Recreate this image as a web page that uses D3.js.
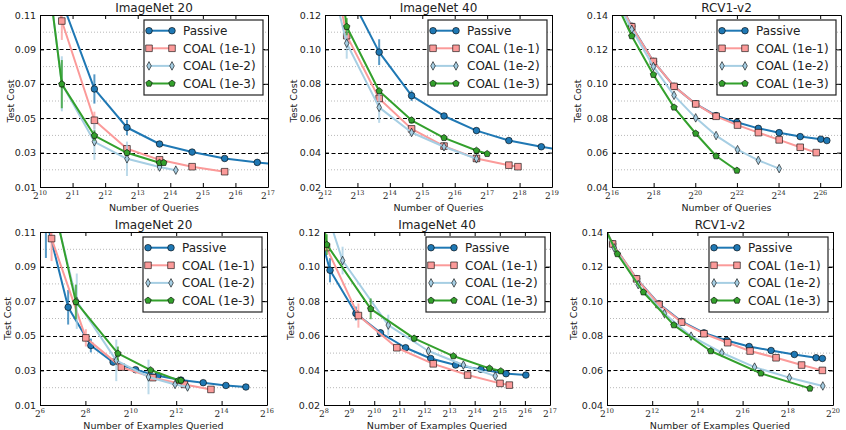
<!DOCTYPE html>
<html>
<head>
<meta charset="utf-8">
<script src="https://cdn.jsdelivr.net/npm/d3@7"></script>
<style>
body { margin: 0; background: #fff; }
svg { font-family: "DejaVu Sans", sans-serif; }
</style>
</head>
<body>
<svg id="chart" width="846" height="430"></svg>
<script>
/* DATA: each point is [log2(x), test cost, error half-width] */
const seriesNames = ["Passive", "COAL (1e-1)", "COAL (1e-2)", "COAL (1e-3)"];

// ImageNet 20, number of queries
const q20Passive = [[10.67,0.118,0],[11.67,0.067,0.0085],[12.67,0.0446,0.0045],[13.67,0.035,0.001],[14.67,0.0303,0.0005],[15.67,0.0266,0],[16.67,0.0243,0],[17.67,0.0225,0]];
const q20Coal1 = [[9.67,0.2,0],[10.67,0.1065,0.011],[11.67,0.0488,0.005],[12.67,0.0322,0.002],[13.67,0.0258,0.001],[14.67,0.0218,0.001],[15.67,0.0189,0]];
const q20Coal2 = [[9.67,0.22,0],[10.67,0.07,0.016],[11.67,0.0363,0.0105],[12.67,0.0264,0.01],[13.67,0.0216,0.002],[14.17,0.0198,0.0015]];
const q20Coal3 = [[9.67,0.22,0],[10.67,0.0698,0.014],[11.67,0.0399,0.003],[12.67,0.0299,0.001],[13.67,0.0241,0.001],[13.8,0.0241,0]];

// ImageNet 40, number of queries
const q40Passive = [[12.67,0.135,0],[13.67,0.0984,0.0075],[14.67,0.0731,0.003],[15.67,0.0613,0.0015],[16.67,0.0528,0.001],[17.67,0.047,0],[18.67,0.0434,0],[19.67,0.0404,0]];
const q40Coal1 = [[11.67,0.2,0],[12.67,0.108,0],[13.67,0.0715,0.002],[14.67,0.0538,0.001],[15.67,0.0438,0.001],[16.67,0.0366,0],[17.67,0.0327,0],[17.95,0.0318,0]];
const q40Coal2 = [[11.67,0.18,0],[12.67,0.1036,0.009],[13.67,0.0663,0.009],[14.67,0.0517,0.002],[15.67,0.0434,0.0015],[16.67,0.0364,0.001]];
const q40Coal3 = [[11.67,0.25,0],[12.67,0.1132,0.005],[13.67,0.0758,0.001],[14.67,0.0588,0.002],[15.67,0.0486,0.001],[16.67,0.0412,0.001],[17.0,0.0393,0]];

// RCV1-v2, number of queries
const qRcvPassive = [[16,0.155,0],[16.95,0.1335,0],[17.99,0.113,0],[18.98,0.0985,0],[20.02,0.0883,0],[21,0.0815,0],[22,0.0776,0],[23.03,0.0741,0],[24.03,0.0716,0],[25.04,0.0693,0],[26.03,0.0678,0],[26.32,0.067,0]];
const qRcvCoal1 = [[16,0.155,0],[16.95,0.1332,0],[17.99,0.113,0],[18.98,0.0985,0],[20.02,0.0883,0],[21,0.0811,0],[22.03,0.076,0],[23.03,0.0716,0],[24.03,0.0674,0],[25.04,0.0631,0],[25.81,0.06,0]];
const qRcvCoal2 = [[16,0.153,0],[16.95,0.1317,0],[17.99,0.11,0],[18.98,0.0933,0],[20.02,0.0802,0],[21,0.0699,0],[22.03,0.0617,0],[23.03,0.0555,0],[24.03,0.0507,0]];
const qRcvCoal3 = [[16,0.152,0],[16.95,0.1278,0],[17.99,0.1053,0],[18.98,0.0863,0],[20.02,0.0711,0],[21,0.058,0],[22,0.0496,0]];

// ImageNet 20, number of examples queried
const e20Passive = [[6.26,0.118,0.023],[7.24,0.0665,0.01],[8.24,0.0444,0.004],[9.22,0.0348,0.001],[10.21,0.0304,0.001],[11.19,0.0269,0],[12.21,0.0244,0],[13.19,0.0229,0],[14.19,0.0213,0],[15.07,0.0204,0]];
const e20Coal1 = [[5.5,0.2,0],[6.51,0.1062,0.013],[8.02,0.0488,0.005],[9.58,0.0319,0.001],[10.97,0.0258,0.001],[12.36,0.0219,0.001],[13.53,0.019,0]];
const e20Coal2 = [[6.6,0.125,0],[7.62,0.07,0.016],[9.36,0.0358,0.012],[10.78,0.0262,0.01],[11.95,0.0219,0.002],[12.5,0.0204,0.002]];
const e20Coal3 = [[6.6,0.126,0],[7.58,0.0696,0.01],[9.43,0.0398,0.004],[10.87,0.0302,0.001],[12.11,0.0242,0.001],[12.21,0.0242,0]];

// ImageNet 40, number of examples queried
const e40Passive = [[7.24,0.15,0],[8.24,0.0979,0.007],[9.27,0.0729,0.004],[10.25,0.0617,0.002],[11.25,0.0531,0],[12.25,0.0469,0],[13.24,0.0431,0],[14.25,0.0406,0],[15.25,0.0381,0],[16.04,0.0373,0]];
const e40Coal1 = [[7.1,0.16,0],[8.1,0.111,0],[9.37,0.0717,0.007],[10.9,0.0531,0],[12.35,0.0438,0],[13.72,0.0373,0],[15.01,0.0325,0],[15.38,0.0315,0]];
const e40Coal2 = [[7.2,0.172,0],[8.74,0.1035,0.008],[10.56,0.0662,0.006],[12.16,0.0512,0.002],[13.55,0.0431,0.001],[14.82,0.0367,0.001]];
const e40Coal3 = [[7.0,0.23,0],[8.11,0.1127,0.006],[9.86,0.0756,0.006],[11.59,0.0585,0.002],[13.15,0.0483,0.001],[14.59,0.0412,0.001],[15.04,0.0396,0]];

// RCV1-v2, number of examples queried
const eRcvPassive = [[9.3,0.159,0],[10.25,0.1331,0],[11.31,0.113,0],[12.3,0.0985,0],[13.3,0.0883,0],[14.29,0.0817,0],[15.3,0.0773,0],[16.29,0.0738,0],[17.26,0.0715,0],[18.29,0.0692,0],[19.25,0.0673,0],[19.53,0.0669,0]];
const eRcvCoal1 = [[9.3,0.159,0],[10.25,0.1331,0],[11.31,0.1129,0],[12.3,0.0981,0],[13.3,0.0879,0],[14.29,0.0812,0],[15.34,0.076,0],[16.33,0.0712,0],[17.48,0.0673,0],[18.61,0.0631,0],[19.53,0.06,0]];
const eRcvCoal2 = [[9.3,0.157,0],[10.32,0.1308,0],[11.38,0.1096,0],[12.54,0.0929,0],[13.72,0.0798,0],[15.08,0.0702,0],[16.53,0.0619,0],[18.07,0.0558,0],[19.55,0.051,0]];
const eRcvCoal3 = [[9.4,0.156,0],[10.46,0.1273,0],[11.61,0.1052,0],[12.96,0.0862,0],[14.59,0.0712,0],[16.81,0.0583,0],[18.98,0.0496,0]];

// tick labels (x as powers of two)
const q20XTicks = [10,11,12,13,14,15,16,17];
const q40XTicks = [12,13,14,15,16,17,18,19];
const qRcvXTicks = [16,18,20,22,24,26];
const e20XTicks = [6,8,10,12,14,16];
const e40XTicks = [8,9,10,11,12,13,14,15,16,17];
const eRcvXTicks = [10,12,14,16,18,20];
const in20YTicks = [0.01,0.03,0.05,0.07,0.09,0.11];
const in40YTicks = [0.02,0.04,0.06,0.08,0.10,0.12];
const rcvYTicks = [0.04,0.06,0.08,0.10,0.12,0.14];

/* STYLE */
const colors = ["#1f78b4", "#fb9a99", "#a6cee3", "#33a02c"];
const markerTypes = ["circle", "square", "diamond", "pentagon"];

function markerPath(type) {
	if (type === "circle") return d3.symbol(d3.symbolCircle, Math.PI * 3.3 * 3.3)();
	if (type === "square") return "M-3.3,-3.3H3.3V3.3H-3.3Z";
	if (type === "diamond") return "M0,-4.3L2.3,0L0,4.3L-2.3,0Z";
	let pts = d3.range(5).map(function(i) {
		let a = -Math.PI / 2 + i * 2 * Math.PI / 5;
		return [3.4 * Math.cos(a), 3.4 * Math.sin(a)];
	});
	return "M" + pts.join("L") + "Z";
}

const svg = d3.select("#chart");

//panel layouts
const panels = [
	{id: "p1", title: "ImageNet 20", xlabel: "Number of Queries", left: 40, right: 268, top: 15, bottom: 187,
	 xDomain: [10, 17], xTicks: q20XTicks, yDomain: [0.01, 0.11], yTicks: in20YTicks, ylabelX: 11,
	 series: [q20Passive, q20Coal1, q20Coal2, q20Coal3]},
	{id: "p2", title: "ImageNet 40", xlabel: "Number of Queries", left: 325, right: 552, top: 15, bottom: 187,
	 xDomain: [12, 19], xTicks: q40XTicks, yDomain: [0.02, 0.12], yTicks: in40YTicks, ylabelX: 294,
	 series: [q40Passive, q40Coal1, q40Coal2, q40Coal3]},
	{id: "p3", title: "RCV1-v2", xlabel: "Number of Queries", left: 612, right: 841, top: 15, bottom: 187,
	 xDomain: [16, 27], xTicks: qRcvXTicks, yDomain: [0.04, 0.14], yTicks: rcvYTicks, ylabelX: 578,
	 series: [qRcvPassive, qRcvCoal1, qRcvCoal2, qRcvCoal3]},
	{id: "p4", title: "ImageNet 20", xlabel: "Number of Examples Queried", left: 40, right: 267, top: 232, bottom: 405,
	 xDomain: [6, 16], xTicks: e20XTicks, yDomain: [0.01, 0.11], yTicks: in20YTicks, ylabelX: 8,
	 series: [e20Passive, e20Coal1, e20Coal2, e20Coal3]},
	{id: "p5", title: "ImageNet 40", xlabel: "Number of Examples Queried", left: 324, right: 550, top: 232, bottom: 405,
	 xDomain: [8, 17], xTicks: e40XTicks, yDomain: [0.02, 0.12], yTicks: in40YTicks, ylabelX: 291,
	 series: [e40Passive, e40Coal1, e40Coal2, e40Coal3]},
	{id: "p6", title: "RCV1-v2", xlabel: "Number of Examples Queried", left: 607, right: 833, top: 232, bottom: 405,
	 xDomain: [10, 20], xTicks: eRcvXTicks, yDomain: [0.04, 0.14], yTicks: rcvYTicks, ylabelX: 574,
	 series: [eRcvPassive, eRcvCoal1, eRcvCoal2, eRcvCoal3]}
];

function drawPanel(p) {
	let x = d3.scaleLog().base(2).domain([Math.pow(2, p.xDomain[0]), Math.pow(2, p.xDomain[1])]).range([p.left, p.right]);
	let y = d3.scaleLinear().domain(p.yDomain).range([p.bottom, p.top]);
	let g = svg.append("g").attr("class", "panel");

	svg.append("clipPath").attr("id", "clip-" + p.id)
		.append("rect")
		.attr("x", p.left).attr("y", p.top)
		.attr("width", p.right - p.left).attr("height", p.bottom - p.top);

	//dotted minor grid between labelled ticks
	let minor = p.yTicks.slice(0, -1).map(function(v, i) { return (v + p.yTicks[i + 1]) / 2; });
	g.selectAll(".minor").data(minor).enter().append("line")
		.attr("x1", p.left).attr("x2", p.right)
		.attr("y1", function(d) { return y(d); }).attr("y2", function(d) { return y(d); })
		.style("stroke", "#b8b8b8").style("stroke-width", 1).style("stroke-dasharray", "1,2");

	//dashed major grid
	g.selectAll(".major").data(p.yTicks.slice(1, -1)).enter().append("line")
		.attr("x1", p.left).attr("x2", p.right)
		.attr("y1", function(d) { return Math.round(y(d)) + 0.5; }).attr("y2", function(d) { return Math.round(y(d)) + 0.5; })
		.style("stroke", "#000").style("stroke-width", 1).style("stroke-dasharray", "4,2.5");

	let plot = g.append("g").attr("clip-path", "url(#clip-" + p.id + ")");
	let line = d3.line()
		.x(function(d) { return x(Math.pow(2, d[0])); })
		.y(function(d) { return y(d[1]); });

	p.series.forEach(function(data, i) {
		let s = plot.append("g");
		//error bars
		s.selectAll(".err").data(data.filter(function(d) { return d[2] > 0; })).enter().append("line")
			.attr("x1", function(d) { return x(Math.pow(2, d[0])); })
			.attr("x2", function(d) { return x(Math.pow(2, d[0])); })
			.attr("y1", function(d) { return y(d[1] - d[2]); })
			.attr("y2", function(d) { return y(d[1] + d[2]); })
			.style("stroke", colors[i]).style("stroke-width", 2).style("opacity", 0.75);
		s.append("path").datum(data)
			.attr("d", line)
			.style("fill", "none").style("stroke", colors[i]).style("stroke-width", 2)
			.style("stroke-linejoin", "round");
		s.selectAll(".mk").data(data).enter().append("path")
			.attr("d", markerPath(markerTypes[i]))
			.attr("transform", function(d) { return "translate(" + x(Math.pow(2, d[0])) + "," + y(d[1]) + ")"; })
			.style("fill", colors[i]).style("stroke", "#000").style("stroke-width", 0.6);
	});

	//axes with inward ticks on all sides
	let xTickVals = p.xTicks.map(function(e) { return Math.pow(2, e); });
	let axes = [
		{axis: d3.axisLeft(y).tickValues(p.yTicks).tickFormat(d3.format(".2f")).tickPadding(4), t: "translate(" + p.left + ",0)"},
		{axis: d3.axisRight(y).tickValues(p.yTicks).tickFormat(function() { return ""; }), t: "translate(" + p.right + ",0)"},
		{axis: d3.axisBottom(x).tickValues(xTickVals).tickFormat(function() { return ""; }), t: "translate(0," + p.bottom + ")"},
		{axis: d3.axisTop(x).tickValues(xTickVals).tickFormat(function() { return ""; }), t: "translate(0," + p.top + ")"}
	];
	axes.forEach(function(a) {
		g.append("g").attr("transform", a.t)
			.call(a.axis.tickSizeInner(-4).tickSizeOuter(0))
			.attr("font-family", "DejaVu Sans").attr("font-size", 9.5)
			.call(function(ax) {
				ax.select(".domain").style("stroke", "#000").style("stroke-width", 1);
				ax.selectAll(".tick line").style("stroke", "#000");
				ax.selectAll(".tick text").style("fill", "#222");
			});
	});

	//x tick labels as powers of two
	let xl = g.selectAll(".xlab").data(p.xTicks).enter().append("text")
		.attr("x", function(d) { return x(Math.pow(2, d)); })
		.attr("y", p.bottom + 12)
		.attr("text-anchor", "middle")
		.style("font-family", "DejaVu Serif, serif")
		.style("fill", "#222");
	xl.append("tspan").style("font-size", "9px").text("2");
	xl.append("tspan").attr("dy", -4.5).style("font-size", "6.5px").text(function(d) { return d; });

	//title and axis labels
	g.append("text")
		.attr("x", (p.left + p.right) / 2).attr("y", p.top - 3)
		.attr("text-anchor", "middle")
		.style("font-size", "12px").style("fill", "#222")
		.text(p.title);
	g.append("text")
		.attr("x", (p.left + p.right) / 2).attr("y", p.bottom + 24)
		.attr("text-anchor", "middle")
		.style("font-size", "9.5px").style("fill", "#222")
		.text(p.xlabel);
	g.append("text")
		.attr("transform", "translate(" + p.ylabelX + "," + ((p.top + p.bottom) / 2) + ") rotate(-90)")
		.attr("text-anchor", "middle")
		.attr("dy", "0.35em")
		.style("font-size", "9.5px").style("fill", "#222")
		.text("Test Cost");

	//legend
	let lw = 119, lx = p.right - 5 - lw, ly = p.top + 5;
	let lg = g.append("g").attr("transform", "translate(" + lx + "," + ly + ")");
	lg.append("rect").attr("width", lw).attr("height", 75)
		.style("fill", "#fff").style("stroke", "#222").style("stroke-width", 1.2);
	seriesNames.forEach(function(name, i) {
		let ry = 10.7 + i * 17.6;
		lg.append("line").attr("x1", 5).attr("x2", 28).attr("y1", ry).attr("y2", ry)
			.style("stroke", colors[i]).style("stroke-width", 2);
		[5, 28].forEach(function(mx) {
			lg.append("path").attr("d", markerPath(markerTypes[i]))
				.attr("transform", "translate(" + mx + "," + ry + ")")
				.style("fill", colors[i]).style("stroke", "#000").style("stroke-width", 0.6);
		});
		lg.append("text").attr("x", 39).attr("y", ry + 4.3)
			.style("font-size", "12px").style("fill", "#222")
			.text(name);
	});
}

panels.forEach(drawPanel);
</script>
</body>
</html>
